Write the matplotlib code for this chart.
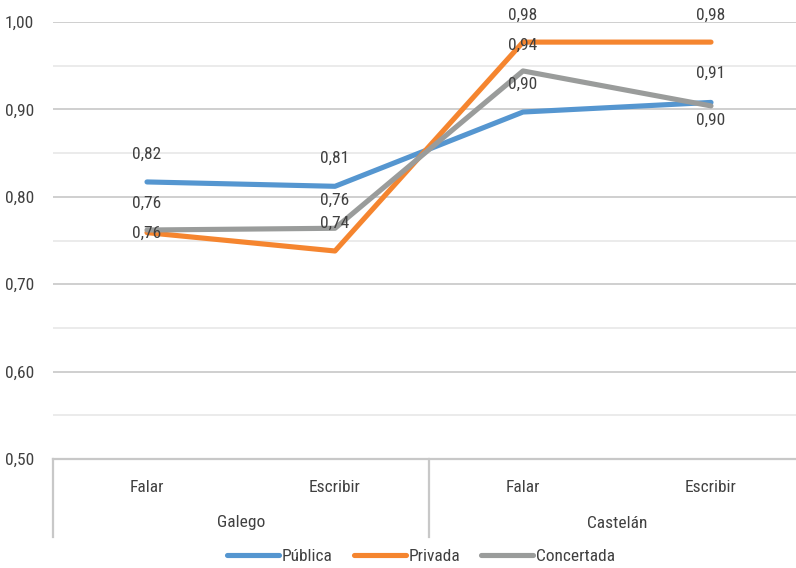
import matplotlib
matplotlib.use("Agg")
import matplotlib.pyplot as plt
from matplotlib import font_manager
from matplotlib.font_manager import FontProperties
from matplotlib.lines import Line2D
from matplotlib.ticker import FixedLocator, FuncFormatter

# Data
groups = ["Galego", "Castelán"]
skills = ["Falar", "Escribir", "Falar", "Escribir"]
series_names = ["Pública", "Privada", "Concertada"]
publica = [0.817, 0.812, 0.897, 0.908]
privada = [0.759, 0.738, 0.977, 0.977]
concertada = [0.762, 0.764, 0.944, 0.904]

colors = ["#5596D0", "#F5852F", "#9A9C9B"]
# label offsets in pixels (dx, dy) per point
label_offsets = [
    [(0, 28), (0, 28), (0, 28), (0, 29)],
    [(0, 29), (0, 28), (0, 27), (0, 27)],
    [(0, -3), (0, 28), (0, 26), (0, -14)],
]


def pick_narrow_font():
    """Return the path of a condensed sans face if one is installed."""
    prefs = ["Liberation Sans Narrow", "Roboto Condensed", "Noto Sans",
             "Open Sans", "DejaVu Sans", "Noto Sans Condensed",
             "Open Sans Condensed", "DejaVu Sans Condensed"]
    found = {}
    for f in font_manager.fontManager.ttflist:
        narrow = ("Narrow" in f.name or "Condensed" in f.name
                  or f.stretch in ("condensed", "semi-condensed", 500, 625, 750)
                  or "Condensed" in f.fname or "Narrow" in f.fname)
        if not narrow or f.style != "normal":
            continue
        if f.weight not in (400, "normal", "regular"):
            continue
        if "Extra" in f.fname or "Ultra" in f.fname or "Semi" in f.fname:
            continue
        if "Mono" in f.name or "Serif" in f.name:
            continue
        found.setdefault(f.name, f.fname)
    for p in prefs:
        if p in found:
            return found[p]
    return next(iter(found.values()), None)


fs = 12.5
path = pick_narrow_font()
if path:
    fp = FontProperties(fname=path, size=fs)
else:
    fp = FontProperties(family="DejaVu Sans", stretch="condensed", size=11)
text_color = "#404040"

W, H = 796, 568
fig = plt.figure(figsize=(W / 100, H / 100), dpi=100)
left_px, right_px, top_px, bottom_px = 53, 805, 22, 459
ax = fig.add_axes([left_px / W, 1 - bottom_px / H,
                   (right_px - left_px) / W, (bottom_px - top_px) / H])

x = list(range(len(skills)))
for vals, name, col, offs in zip([publica, privada, concertada], series_names,
                                 colors, label_offsets):
    ax.plot(x, vals, color=col, lw=3.7, solid_capstyle="round",
            solid_joinstyle="round", label=name, zorder=3)
    for xi, v, (dx, dy) in zip(x, vals, offs):
        ax.annotate(f"{v:.2f}".replace(".", ","), (xi, v), xytext=(dx, dy),
                    textcoords="offset pixels", ha="center", va="center",
                    fontproperties=fp, color=text_color, zorder=4)

ax.set_xlim(-0.5, len(skills) - 0.5)
ax.set_ylim(0.5, 1.0)
ax.yaxis.set_major_locator(FixedLocator([0.5, 0.6, 0.7, 0.8, 0.9, 1.0]))
ax.yaxis.set_minor_locator(FixedLocator([0.55, 0.65, 0.75, 0.85, 0.95]))
ax.yaxis.set_major_formatter(FuncFormatter(lambda v, p: f"{v:.2f}".replace(".", ",")))
ax.grid(axis="y", which="major", color="#cbcbcb", lw=1.3, zorder=0)
ax.grid(axis="y", which="minor", color="#e9e9e9", lw=1.3, zorder=0)
ax.set_axisbelow(True)
ax.tick_params(axis="y", which="both", length=0, pad=13.5, labelcolor=text_color)
ax.tick_params(axis="x", which="both", length=0, labelbottom=False)
for lab in ax.get_yticklabels():
    lab.set_fontproperties(fp)
for s in ["top", "right", "left"]:
    ax.spines[s].set_visible(False)
ax.spines["bottom"].set_color("#c8c8c8")
ax.spines["bottom"].set_linewidth(1.6)

# Two-level category axis
tr = ax.get_xaxis_transform()
h_ax = bottom_px - top_px
y_skill = -(487 - bottom_px) / h_ax
y_group = -(523 - bottom_px) / h_ax
y_line_end = -(537 - bottom_px) / h_ax
for xi, s in zip(x, skills):
    ax.text(xi, y_skill, s, transform=tr, ha="center", va="center",
            fontproperties=fp, color=text_color)
for gi, g in enumerate(groups):
    ax.text(gi * 2 + 0.5, y_group, g, transform=tr, ha="center", va="center",
            fontproperties=fp, color=text_color)
for xb in [-0.5, 1.5, 3.5]:
    ax.add_line(Line2D([xb, xb], [0, y_line_end], transform=tr, color="#c8c8c8",
                       lw=1.6, clip_on=False))

leg = fig.legend(loc="center", bbox_to_anchor=(421 / W, 1 - 556 / H), ncol=3,
                 frameon=False, prop=fp, handlelength=3.0, handletextpad=0.15,
                 columnspacing=1.2, labelcolor=text_color)
for h in leg.get_lines():
    h.set_linewidth(3.7)
    h.set_solid_capstyle("round")

fig.savefig("out.png", dpi=100)
